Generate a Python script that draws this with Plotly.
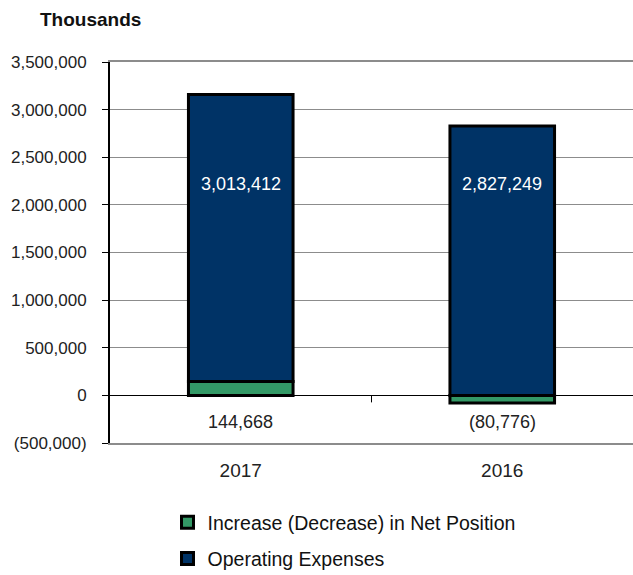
import plotly.graph_objects as go

years = ["2017", "2016"]
net_position = [144668, -80776]
operating_expenses = [3013412, 2827249]
net_labels = ["144,668", "(80,776)"]
opex_labels = ["3,013,412", "2,827,249"]
y_tickvals = [-500000, 0, 500000, 1000000, 1500000, 2000000, 2500000, 3000000, 3500000]
y_ticktext = ["(500,000)", "0", "500,000", "1,000,000", "1,500,000", "2,000,000",
              "2,500,000", "3,000,000", "3,500,000"]

FONT = "Liberation Sans, Arial, sans-serif"
NAVY = "#003366"
GREEN = "#339966"
OPEX_LABEL_Y = 2220000
NET_LABEL_Y = -280000

fig = go.Figure()
fig.add_trace(go.Bar(
    x=years, y=net_position, name="Increase (Decrease) in Net Position",
    marker=dict(color=GREEN, line=dict(color="black", width=3)),
    width=0.4, legendgroup="a", hoverinfo="skip"))
fig.add_trace(go.Bar(
    x=years, y=operating_expenses, name="Operating Expenses",
    marker=dict(color=NAVY, line=dict(color="black", width=3)),
    width=0.4, legendgroup="b", hoverinfo="skip"))

# annotations placed by category index (category axis positions 0, 1, ...)
for i, lab in enumerate(opex_labels):
    fig.add_annotation(x=i, y=OPEX_LABEL_Y, text=lab, showarrow=False,
                       font=dict(family=FONT, size=18, color="white"))
for i, lab in enumerate(net_labels):
    fig.add_annotation(x=i, y=NET_LABEL_Y, text=lab, showarrow=False,
                       font=dict(family=FONT, size=18, color="#222222"))

fig.add_annotation(xref="paper", yref="paper", x=-0.138, y=1.112, xanchor="left",
                   yanchor="middle", text="<b>Thousands</b>", showarrow=False,
                   font=dict(family=FONT, size=19, color="#111111"))

# category boundary tick on the zero axis (midway between the two categories)
fig.add_shape(type="line", xref="paper", yref="y", x0=0.5, x1=0.5,
              ysizemode="pixel", yanchor=0, y0=0, y1=-7,
              line=dict(color="black", width=1))

fig.update_layout(
    width=633, height=575,
    margin=dict(l=110, r=0, t=62, b=132, autoexpand=False),
    paper_bgcolor="white", plot_bgcolor="white",
    barmode="relative", bargap=0.6,
    font=dict(family=FONT, size=17, color="#222222"),
    showlegend=True,
    legend=dict(orientation="v", xref="paper", yref="container",
                x=0.110, y=1 - 503 / 575, xanchor="left", yanchor="top",
                traceorder="grouped", tracegroupgap=8,
                font=dict(family=FONT, size=19.5, color="#111111"),
                itemwidth=30),
    xaxis=dict(type="category", categoryorder="array", categoryarray=years,
               range=[-0.5, len(years) - 0.5],
               showgrid=False, showline=True, linecolor="#8c8c8c",
               linewidth=2, mirror=True, ticks="", tickfont=dict(size=19),
               ticklabelstandoff=9, fixedrange=True),
    yaxis=dict(range=[-500000, 3500000], tickvals=y_tickvals, ticktext=y_ticktext,
               showgrid=True, gridcolor="#8c8c8c", gridwidth=1,
               zeroline=True, zerolinecolor="black", zerolinewidth=1,
               showline=True, linecolor="black", linewidth=2,
               ticks="outside", ticklen=6, tickcolor="black",
               tickfont=dict(size=17), ticklabelstandoff=12, fixedrange=True),
)

fig.write_html("out.html")
